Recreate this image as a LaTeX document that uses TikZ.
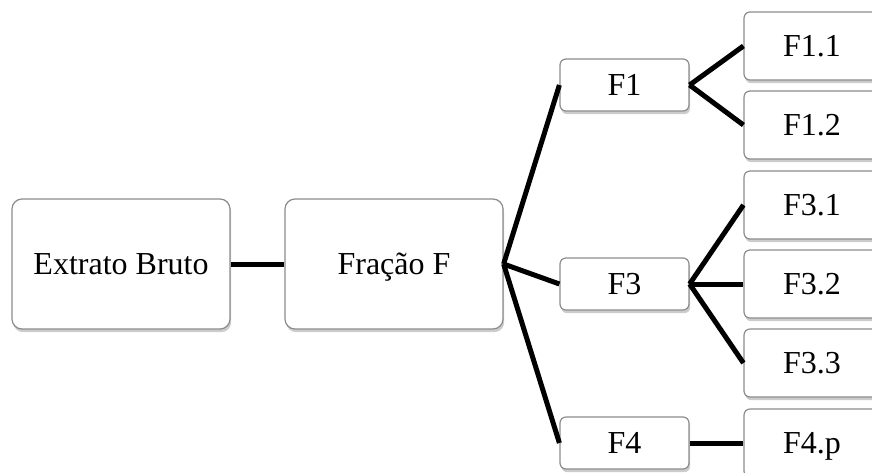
\documentclass[tikz,border=0pt]{standalone}
\usepackage{fontspec}
\setmainfont{Liberation Serif}
\usepackage{tikz}
\usetikzlibrary{shadows}

\begin{document}
\begin{tikzpicture}[x=0.5pt,y=-0.5pt,
    box/.style={draw=black!45,line width=0.6pt,fill=white,
      drop shadow={opacity=0.4,shadow xshift=0.6pt,shadow yshift=-1.6pt},
      font=\fontsize{16}{19}\selectfont,inner sep=0pt,
      text height=10.6pt,text depth=0pt},
    bigbox/.style={box,rounded corners=5pt,minimum width=109pt,minimum height=65pt},
    midbox/.style={box,rounded corners=3pt,minimum width=64.5pt,minimum height=26pt},
    leafbox/.style={box,rounded corners=3pt,minimum width=68pt,minimum height=34pt},
    link/.style={line width=2.5pt}]
    \useasboundingbox (0,0) rectangle (872,472);
    \node[bigbox] (bruto) at (121,264) {Extrato Bruto};
    \node[bigbox] (fracao) at (394,264) {Fração F};
    \node[midbox] (f1) at (624.5,85) {F1};
    \node[midbox] (f3) at (624.5,284) {F3};
    \node[midbox] (f4) at (624.5,443) {F4};
    \node[leafbox] (f11) at (812,46) {F1.1};
    \node[leafbox] (f12) at (812,125) {F1.2};
    \node[leafbox] (f31) at (812,205) {F3.1};
    \node[leafbox] (f32) at (812,284) {F3.2};
    \node[leafbox] (f33) at (812,363) {F3.3};
    \node[leafbox] (f4p) at (812,443) {F4.p};
    \draw[link] (bruto.east) to (fracao.west);
    \foreach \t in {f1,f3,f4} {
      \draw[link] (fracao.east) to (\t.west);
    }
    \foreach \t in {f11,f12} {
      \draw[link] (f1.east) to (\t.west);
    }
    \foreach \t in {f31,f32,f33} {
      \draw[link] (f3.east) to (\t.west);
    }
    \draw[link] (f4.east) to (f4p.west);
  \end{tikzpicture}
\end{document}
